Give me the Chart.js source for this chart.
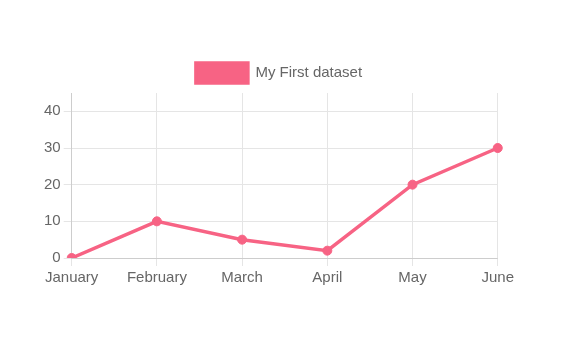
<!DOCTYPE html>
<html>
<head>
<meta charset="utf-8">
<script src="https://cdn.jsdelivr.net/npm/chart.js@4/dist/chart.umd.min.js"></script>
<style>
  html, body { margin: 0; padding: 0; background: #fff; }
  #wrap { position: absolute; left: 41px; top: 55px; width: 476px; height: 235px; }
</style>
</head>
<body>
<div id="wrap"><canvas id="lineChart"></canvas></div>
<script>
// --- data ---
const months = ['January', 'February', 'March', 'April', 'May', 'June'];
const firstDataset = [0, 10, 5, 2, 20, 30];
const yTicks = [0, 10, 20, 30, 40];

Chart.defaults.font.family = 'Arial, "Liberation Sans", sans-serif';
Chart.defaults.font.size = 15;
Chart.defaults.color = '#666';

new Chart(document.getElementById('lineChart'), {
    type: 'line',
    data: {
        labels: months,
        datasets: [{
            label: 'My First dataset',
            data: firstDataset,
            borderColor: 'rgb(247, 99, 132)',
            backgroundColor: 'rgb(247, 99, 132)',
            borderWidth: 3.5,
            pointRadius: 4.5,
            pointBorderWidth: 1,
            tension: 0
        }]
    },
    options: {
        responsive: true,
        maintainAspectRatio: false,
        animation: false,
        plugins: {
            legend: {
                labels: { boxWidth: 52, boxHeight: 20, padding: 8 }
            }
        },
        scales: {
            x: {
                grid: { color: '#e5e5e5' }
            },
            y: {
                min: 0,
                max: 45,
                afterBuildTicks: (axis) => { axis.ticks = yTicks.map(v => ({ value: v })); },
                grid: { color: '#e5e5e5' }
            }
        }
    }
});
</script>
</body>
</html>
